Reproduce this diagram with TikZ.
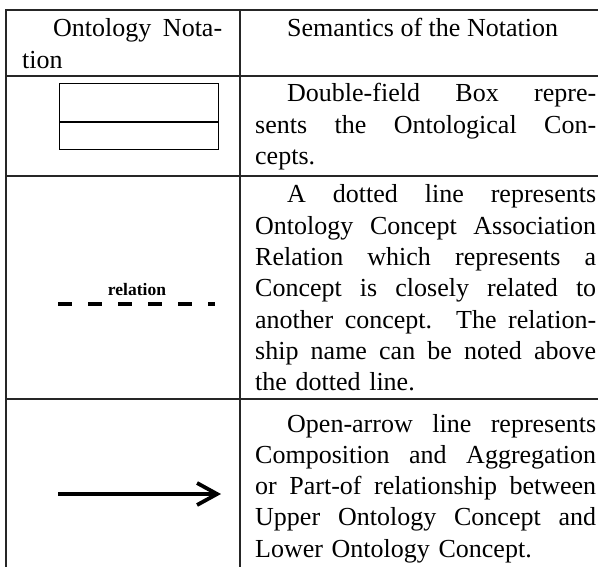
\documentclass[tikz,border=0pt]{standalone}
\usepackage{fontspec}
\setmainfont{Liberation Serif}
\usetikzlibrary{arrows.meta}
\newcommand\jline[2][341pt]{\makebox[#1][s]{\spaceskip=0pt\xspaceskip=0pt\relax #2}}
\begin{document}
\begin{tikzpicture}[x=1pt,y=-1pt,
  grid/.style={line width=1.5pt, black!85},
  body/.style={font=\fontsize{26}{31.3}\selectfont, inner sep=0pt, anchor=base west, align=left},
  lbl/.style={font=\bfseries\fontsize{17.5}{20}\selectfont, inner sep=0pt, anchor=base},
]
\useasboundingbox (0,0) rectangle (598,567);
\fill[white] (0,0) rectangle (598,567);
% table rules
\draw[grid] (6,567) -- (6,10) -- (612,10);
\draw[grid] (240,10) -- (240,567);
\draw[grid] (6,76) -- (612,76);
\draw[grid] (6,176) -- (612,176);
\draw[grid] (6,399) -- (612,399);
% header
\node[body, text width=202pt] (h1) at (22,37) {\jline[200pt]{\hspace*{31pt}Ontology Nota-}\\tion};
\node[body] (h2) at (287,37) {Semantics of the Notation};
% row 1
\draw[line width=1pt] (59,84) rectangle (218,150);
\draw[line width=2pt] (59,122) -- (218,122);
\node[body, text width=341pt] (r1) at (255,102) {%
\jline{\hspace*{32pt}Double-field Box repre-}\\
\jline{sents the Ontological Con-}\\
cepts.};
% row 2
\coordinate (rS) at (58,304);
\coordinate (rE) at (215,304);
\draw[line width=3.3pt, dash pattern=on 14pt off 16pt] (rS) -- (rE);
\node[lbl] (rl) at (137,295) {relation};
\node[body, text width=341pt] (r2) at (255,203) {%
\jline{\hspace*{32pt}A dotted line represents}\\
\jline{Ontology Concept Association}\\
\jline{Relation which represents a}\\
\jline{Concept is closely related to}\\
\jline{another concept. The relation-}\\
\jline{ship name can be noted above}\\
the dotted line.};
% row 3
\coordinate (aS) at (58,494);
\coordinate (aE) at (221,494);
\draw[line width=3.8pt, -{Straight Barb[length=20pt,width=22pt]}] (aS) -- (aE);
\node[body, text width=341pt] (r3) at (255,432) {%
\jline{\hspace*{32pt}Open-arrow line represents}\\
\jline{Composition and Aggregation}\\
\jline{or Part-of relationship between}\\
\jline{Upper Ontology Concept and}\\
Lower Ontology Concept.};
\end{tikzpicture}
\end{document}
